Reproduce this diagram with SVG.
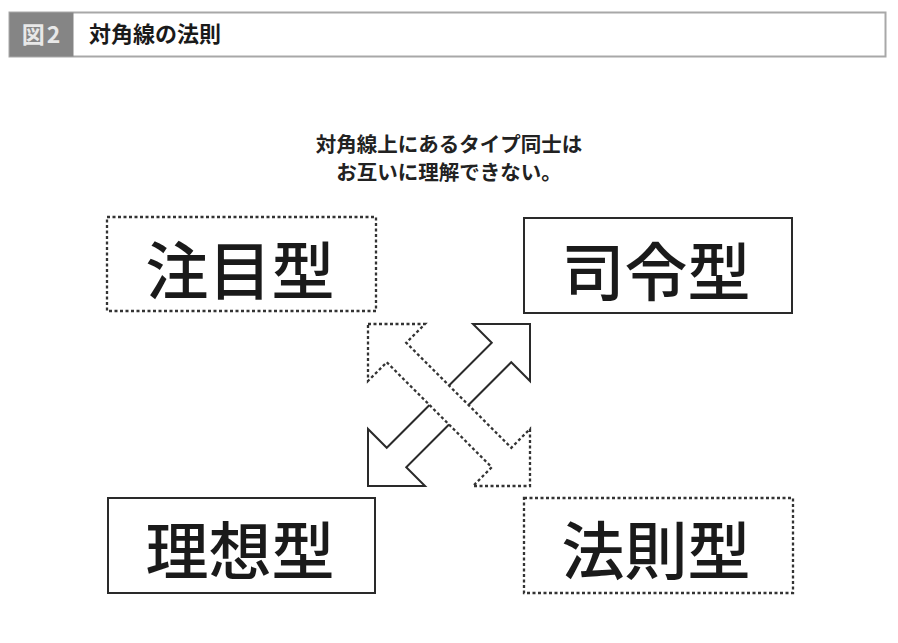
<svg xmlns="http://www.w3.org/2000/svg" width="898" height="643" viewBox="0 0 898 643">
<style>
.jp{font-family:"Noto Sans CJK JP","Noto Sans CJK SC",sans-serif;}
.big{font-size:63px;font-weight:500;fill:#1a1a1a;text-anchor:middle;dominant-baseline:central;}
.solid{fill:#fff;stroke:#2a2a2a;stroke-width:2;}
.dot{fill:#fff;stroke:#333;stroke-width:2.3;stroke-dasharray:3 2.5;}
</style>
<rect width="898" height="643" fill="#fff"/>
<g id="header">
<rect x="9.5" y="12.5" width="876" height="44" fill="#fff" stroke="#a8a8a8" stroke-width="2"/>
<rect x="9.5" y="12.5" width="64" height="44" fill="#858585"/>
<text x="42" y="43" class="jp" font-size="23" font-weight="bold" fill="#e8e8e8" text-anchor="middle" letter-spacing="2">図2</text>
<text x="89" y="42" class="jp" font-size="22" font-weight="bold" fill="#1a1a1a">対角線の法則</text>
</g>
<g id="caption">
<text x="449" y="152" class="jp" font-size="20.5" font-weight="bold" fill="#222" text-anchor="middle">対角線上にあるタイプ同士は</text>
<text x="449" y="180" class="jp" font-size="20.5" font-weight="bold" fill="#222" text-anchor="middle">お互いに理解できない。</text>
</g>
<g id="connectors">
<polygon class="solid" points="530,324 473,324 491.75,342.75 386.75,447.75 368,429 368,486 425,486 406.25,467.25 511.25,362.25 530,381"/>
<polygon class="dot" points="368,324 425,324 406.25,342.75 511.25,447.75 530,429 530,486 473,486 491.75,467.25 386.75,362.25 368,381"/>
</g>
<g id="node-chumoku">
<rect x="107" y="217" width="269" height="94" fill="none" stroke="#333" stroke-width="2.3" stroke-dasharray="3 2.5"/>
<text x="240" y="266" class="jp big">注目型</text>
</g>
<g id="node-shirei">
<rect x="524" y="218" width="268" height="95" fill="none" stroke="#2a2a2a" stroke-width="2"/>
<text x="656" y="267" class="jp big">司令型</text>
</g>
<g id="node-riso">
<rect x="108" y="498" width="267" height="95" fill="none" stroke="#2a2a2a" stroke-width="2"/>
<text x="240" y="546" class="jp big">理想型</text>
</g>
<g id="node-hosoku">
<rect x="524" y="498" width="269" height="95" fill="none" stroke="#333" stroke-width="2.3" stroke-dasharray="3 2.5"/>
<text x="656" y="546" class="jp big">法則型</text>
</g>
</svg>
